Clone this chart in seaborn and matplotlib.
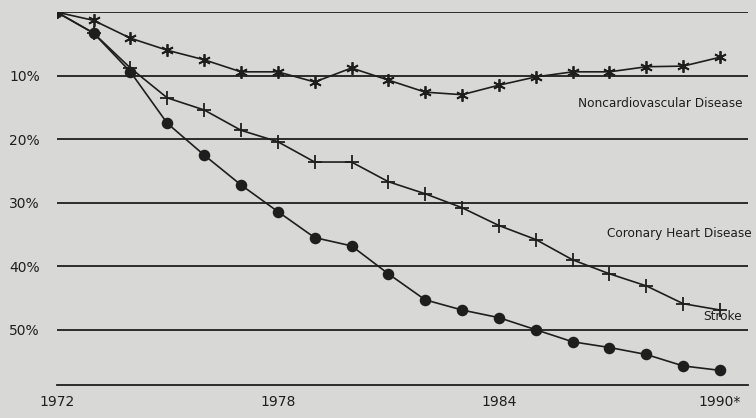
import matplotlib
matplotlib.use("Agg")
import matplotlib.pyplot as plt
import seaborn as sns
import pandas as pd

years = list(range(1972, 1991))
noncardio = [0, 1.3, 4.1, 6.0, 7.5, 9.4, 9.4, 11.0, 8.8, 10.7, 12.6, 13.0, 11.5, 10.2, 9.4, 9.4, 8.6, 8.5, 7.1]
coronary = [0, 3.3, 8.8, 13.5, 15.4, 18.6, 20.4, 23.6, 23.6, 26.7, 28.6, 30.8, 33.6, 35.8, 39.0, 41.2, 43.1, 45.9, 46.9]
stroke = [0, 3.3, 9.4, 17.5, 22.5, 27.2, 31.4, 35.5, 36.8, 41.2, 45.3, 46.9, 48.1, 50.0, 51.9, 52.8, 53.9, 55.7, 56.4]
y_ticks = [10, 20, 30, 40, 50]
x_labels = {1972: "1972", 1978: "1978", 1984: "1984", 1990: "1990*"}

sns.set_style("white")
plt.rcParams['font.family'] = ['DejaVu Sans']
bg = "#d8d8d6"
ink = "#1e1e1e"

fig = plt.figure(figsize=(7.56, 4.18), dpi=100, facecolor=bg)
ax = fig.add_axes([0.075, 0.079, 0.914, 0.892], facecolor=bg)

for v in [0] + y_ticks:
    ax.axhline(v, color=ink, lw=1.3, zorder=1)

series = [("Noncardiovascular Disease", noncardio, (6, 2, 0), 9),
          ("Coronary Heart Disease", coronary, "+", 10),
          ("Stroke", stroke, "o", 7)]
for name, vals, mk, ms in series:
    df = pd.DataFrame({"year": years, "val": vals})
    sns.lineplot(data=df, x="year", y="val", ax=ax, color=ink, lw=1.2,
                 marker=mk, markersize=ms, markeredgewidth=1.3,
                 markeredgecolor=ink, markerfacecolor=ink, zorder=3)

ax.text(1990.6, 14.4, "Noncardiovascular Disease", ha="right", va="center", fontsize=8.7, color=ink)
ax.text(1990.85, 34.8, "Coronary Heart Disease", ha="right", va="center", fontsize=8.7, color=ink)
ax.text(1990.6, 47.9, "Stroke", ha="right", va="center", fontsize=8.7, color=ink)

ax.set_xlim(1972, 1990.75)
ax.set_ylim(58.7, 0)
ax.set_yticks(y_ticks)
ax.set_yticklabels([f"{v}%" for v in y_ticks], fontsize=10, color=ink)
ax.set_xticks(years[1:])
ax.set_xticklabels([])
ax.tick_params(axis="x", direction="in", length=14, width=1.3, color=ink)
ax.tick_params(axis="y", length=0, pad=12)
for yr, lab in x_labels.items():
    ax.text(yr, 60.3, lab, ha="center", va="top", fontsize=10, color=ink)
ax.set_xlabel("")
ax.set_ylabel("")
for s in ["top", "right", "left"]:
    ax.spines[s].set_visible(False)
ax.spines["bottom"].set_color(ink)
ax.spines["bottom"].set_linewidth(1.3)

fig.savefig("out.png", dpi=100, facecolor=bg)
